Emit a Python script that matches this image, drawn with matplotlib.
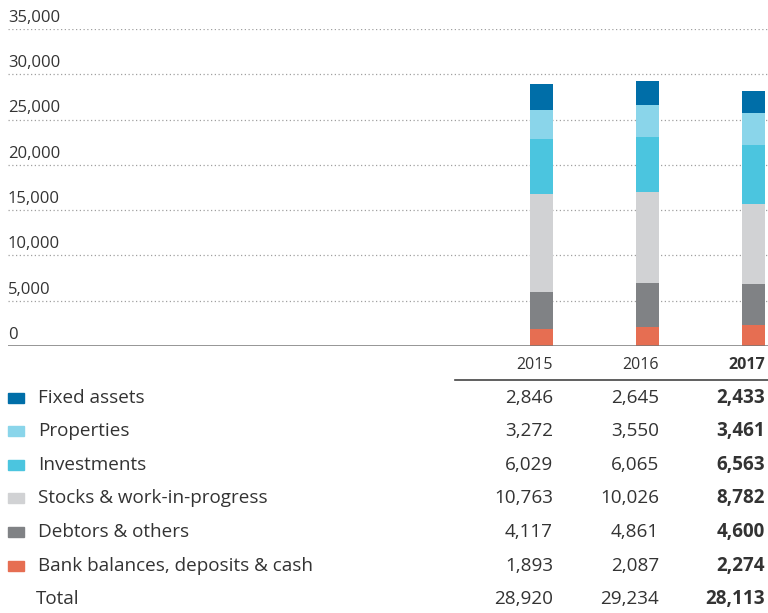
import matplotlib
matplotlib.use('Agg')
import matplotlib.pyplot as plt
from matplotlib.patches import Rectangle
from matplotlib.lines import Line2D

# data (top row of the table first, as in the picture)
years = ['2015', '2016', '2017']
categories = ['Fixed assets', 'Properties', 'Investments',
              'Stocks & work-in-progress', 'Debtors & others',
              'Bank balances, deposits & cash']
fixed_assets = [2846, 2645, 2433]
properties = [3272, 3550, 3461]
investments = [6029, 6065, 6563]
stocks = [10763, 10026, 8782]
debtors = [4117, 4861, 4600]
bank = [1893, 2087, 2274]
totals = [28920, 29234, 28113]
y_ticks = [0, 5000, 10000, 15000, 20000, 25000, 30000, 35000]

series = [fixed_assets, properties, investments, stocks, debtors, bank]
colors = ['#006ea8', '#8ad5ea', '#4bc5df', '#d1d2d4', '#808285', '#e66e52']

plt.rcParams['font.family'] = ['Open Sans', 'DejaVu Sans']
txt = '#333333'

W, H = 768, 613
fig = plt.figure(figsize=(W / 100, H / 100), dpi=100)


def fx(px):
    return px / W


def fy(py):
    return 1 - py / H


# chart area: 0 at y=346px, 35,000 at y=29px
ax = fig.add_axes([fx(8), fy(346), fx(760), (346 - 29) / H])
ax.set_ylim(0, 35000)
step = 106.0
ax.set_xlim((8 - 541.5) / step, (768 - 541.5) / step)
ax.axis('off')

for t in y_ticks[1:]:
    ax.axhline(t, color='#a0a0a0', lw=0.9, ls=(0, (1, 2)), zorder=0)
ax.axhline(0, color='#777777', lw=1.8, zorder=3)

for t in y_ticks:
    ax.text(0.0, t + 350, f'{t:,}', transform=ax.get_yaxis_transform(),
            ha='left', va='bottom', fontsize=12, color=txt)

xpos = list(range(len(years)))
bottom = [0] * len(years)
for vals, c in zip(reversed(series), reversed(colors)):
    ax.bar(xpos, vals, width=23 / step, bottom=bottom, color=c, zorder=2)
    bottom = [b + v for b, v in zip(bottom, vals)]

# table below
col_right = [553, 659, 765]
for i, yr in enumerate(years):
    fig.text(fx(col_right[i]), fy(365), yr, ha='right', va='center',
             fontsize=11.5, color=txt, fontweight='bold' if i == 2 else 'normal')
fig.add_artist(Line2D([fx(455), fx(768)], [fy(380), fy(380)],
                      color='#444444', lw=1.2))

fs = 13.6
row_y = [398, 431, 465, 498, 532, 566]
for r, (name, vals, c) in enumerate(zip(categories, series, colors)):
    y = row_y[r]
    fig.add_artist(Rectangle((fx(8), fy(y + 5)), fx(16), 10 / H,
                             color=c, transform=fig.transFigure))
    fig.text(fx(38), fy(y), name, ha='left', va='center', fontsize=fs, color=txt)
    for i, v in enumerate(vals):
        fig.text(fx(col_right[i]), fy(y), f'{v:,}', ha='right', va='center',
                 fontsize=fs, color=txt, fontweight='bold' if i == 2 else 'normal')

fig.text(fx(36), fy(599), 'Total', ha='left', va='center', fontsize=fs, color=txt)
for i, v in enumerate(totals):
    fig.text(fx(col_right[i]), fy(599), f'{v:,}', ha='right', va='center',
             fontsize=fs, color=txt, fontweight='bold' if i == 2 else 'normal')

fig.savefig('out.png', dpi=100)
